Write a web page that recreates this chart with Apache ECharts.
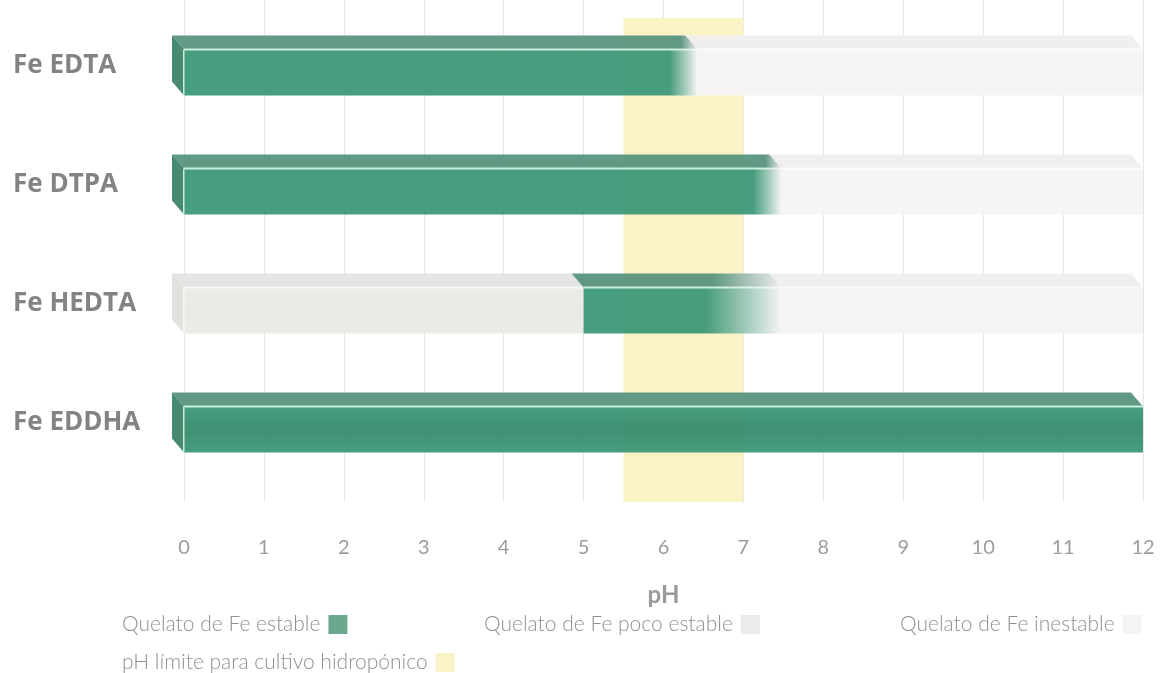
<!DOCTYPE html>
<html>
<head>
<meta charset="utf-8">
<script src="https://cdn.jsdelivr.net/npm/echarts@6/dist/echarts.min.js"></script>
<style>
html,body{margin:0;padding:0;background:#fff;}
#chart{width:1174px;height:673px;}
</style>
</head>
<body>
<div id="chart"></div>
<script>
// ---- data ----
const categories = ['Fe EDTA', 'Fe DTPA', 'Fe HEDTA', 'Fe EDDHA'];
const phTicks = [0, 1, 2, 3, 4, 5, 6, 7, 8, 9, 10, 11, 12];
// stable chelate range per category [start, end] (end = middle of the fade-out)
const estable = [[0, 6.25], [0, 7.3], [5, 7.0], [0, 12]];
const estableFade = [0.35, 0.35, 0.95, 0];
// poorly stable range
const pocoEstable = [null, null, [0, 5], null];
// unstable range
const inestable = [[6.25, 12], [7.3, 12], [7.0, 12], null];
// pH limit for hydroponic crops
const hydroRange = [5.5, 7];

const legendNames = ['Quelato de Fe estable', 'Quelato de Fe poco estable', 'Quelato de Fe inestable', 'pH límite para cultivo hidropónico'];

function toData(ranges, fades) {
  const out = [];
  ranges.forEach((r, i) => {
    if (r) out.push([r[0], r[1], i, fades ? fades[i] : 0]);
  });
  return out;
}

const DX = 12, DY = 14, FRONT_UP = 16, FRONT_DOWN = 30;

function makeRender(style) {
  return function (params, api) {
    const s = api.value(0), e = api.value(1), cat = api.value(2), fade = api.value(3);
    const p0 = api.coord([s, cat]);
    const x0 = p0[0], yc = p0[1];
    const xEnd = api.coord([e + fade / 2, cat])[0];
    const xFade = api.coord([e - fade / 2, cat])[0];
    const yT = yc - FRONT_UP, yB = yc + FRONT_DOWN;
    const children = [];
    function hGrad(c1, c2, bx0, bx1) {
      const off = Math.max(0, Math.min(1, (xFade - bx0) / (bx1 - bx0)));
      return new echarts.graphic.LinearGradient(0, 0, 1, 0, [
        {offset: 0, color: c1}, {offset: off, color: c1}, {offset: 1, color: c2}
      ]);
    }
    // top face
    children.push({
      type: 'polygon',
      shape: {points: [[x0 - DX, yT - DY], [xEnd - DX, yT - DY], [xEnd, yT], [x0, yT]]},
      style: {fill: fade > 0 ? hGrad(style.top, style.fadeTop, x0 - DX, xEnd - DX) : style.top}
    });
    // front face
    children.push({
      type: 'rect',
      shape: {x: x0, y: yT, width: xEnd - x0, height: yB - yT},
      style: {fill: fade > 0 ? hGrad(style.front, style.fadeFront, x0, xEnd) : new echarts.graphic.LinearGradient(0, 0, 0, 1, [
        {offset: 0, color: style.front}, {offset: 0.5, color: style.front2}, {offset: 1, color: style.front}
      ])}
    });
    // highlight edge
    children.push({
      type: 'rect',
      shape: {x: x0, y: yT - 1, width: Math.max(0, xEnd - x0), height: 2},
      style: {fill: fade > 0 ? hGrad(style.edge, 'rgba(255,255,255,0.6)', x0, xEnd) : style.edge}
    });
    // left side face (only at axis start)
    if (s === 0) {
      children.push({
        type: 'polygon',
        shape: {points: [[x0 - DX, yT - DY], [x0, yT], [x0, yB], [x0 - DX, yB - DY]]},
        style: {fill: style.side}
      });
      children.push({
        type: 'rect',
        shape: {x: x0 - 1, y: yT, width: 1.5, height: yB - yT},
        style: {fill: style.edge}
      });
    }
    return {type: 'group', children: children};
  };
}

const stylePoco = {top: '#e2e5e1', front: '#e9ece7', front2: '#e7eae5', side: '#dfe2dd', edge: '#f6f8f5'};
const styleInest = {top: '#f0efed', front: '#f7f5f3', front2: '#f6f4f2', side: '#efeeec', edge: '#fbfbfa'};
const styleEst = {top: 'rgba(90,148,126,0.95)', front: 'rgba(58,150,118,0.93)', front2: 'rgba(48,138,104,0.93)',
  side: 'rgba(62,132,105,0.95)', edge: '#c6f0da', fadeFront: '#f6f5f3', fadeTop: '#f0efed'};

const chart = echarts.init(document.getElementById('chart'), null, {renderer: 'canvas'});

const baseFont = 'Lato, "Noto Sans", sans-serif';

function legendAt(name, left, top) {
  return {
    data: [name], left: left, top: top, orient: 'horizontal', align: 'right',
    icon: 'rect', itemWidth: 19, itemHeight: 19, selectedMode: false,
    textStyle: {color: '#909090', fontSize: 21, fontWeight: 300, fontFamily: baseFont, padding: [0, 3, 0, 0]}
  };
}

chart.setOption({
  animation: false,
  backgroundColor: '#ffffff',
  legend: [
    legendAt(legendNames[0], 117, 609),
    legendAt(legendNames[1], 479, 609),
    legendAt(legendNames[2], 895, 609),
    legendAt(legendNames[3], 117, 647)
  ],
  grid: [
    {left: 184, right: 31, top: 6, bottom: 191},
    {left: 184, right: 31, top: 0, bottom: 171}
  ],
  xAxis: [
    {
      gridIndex: 0, type: 'value', min: 0, max: 12, interval: 1,
      axisLine: {show: false}, axisTick: {show: false}, splitLine: {show: false},
      axisLabel: {margin: 56, color: '#9c9c9c', fontSize: 20, fontFamily: baseFont,
        formatter: v => phTicks.indexOf(v) >= 0 ? String(v) : ''},
      name: 'pH', nameLocation: 'middle', nameGap: 101,
      nameTextStyle: {color: '#9a9a9a', fontSize: 24, fontWeight: 'bold', fontFamily: baseFont}
    },
    {
      gridIndex: 1, type: 'value', min: 0, max: 12, interval: 1,
      axisLine: {show: false}, axisTick: {show: false}, axisLabel: {show: false},
      splitLine: {show: true, lineStyle: {color: '#e6e6e6', width: 1}}
    }
  ],
  yAxis: [
    {
      gridIndex: 0, type: 'category', data: categories, inverse: true,
      axisLine: {show: false}, axisTick: {show: false}, splitLine: {show: false},
      axisLabel: {align: 'left', margin: 171, color: '#838383', fontSize: 26, fontWeight: 'bold',
        fontFamily: '"Open Sans", Lato, sans-serif'}
    },
    {gridIndex: 1, type: 'value', min: 0, max: 1, show: false}
  ],
  series: [
    {
      name: legendNames[3], type: 'custom', xAxisIndex: 1, yAxisIndex: 1, z: 1, clip: false,
      itemStyle: {color: '#faf3c6'},
      data: [[hydroRange[0], hydroRange[1]]],
      renderItem: function (params, api) {
        const cs = params.coordSys;
        const x0 = api.coord([api.value(0), 0])[0];
        const x1 = api.coord([api.value(1), 0])[0];
        return {type: 'rect', shape: {x: x0, y: cs.y + 18, width: x1 - x0, height: cs.height - 18},
          style: {fill: '#faf3c6'}};
      }
    },
    {
      name: legendNames[1], type: 'custom', xAxisIndex: 0, yAxisIndex: 0, z: 2, clip: false,
      itemStyle: {color: '#ebebeb'},
      data: toData(pocoEstable), renderItem: makeRender(stylePoco)
    },
    {
      name: legendNames[2], type: 'custom', xAxisIndex: 0, yAxisIndex: 0, z: 2, clip: false,
      itemStyle: {color: '#f4f4f4'},
      data: toData(inestable), renderItem: makeRender(styleInest)
    },
    {
      name: legendNames[0], type: 'custom', xAxisIndex: 0, yAxisIndex: 0, z: 3, clip: false,
      itemStyle: {color: '#6ba88e'},
      data: toData(estable, estableFade), renderItem: makeRender(styleEst)
    }
  ]
});
</script>
</body>
</html>
